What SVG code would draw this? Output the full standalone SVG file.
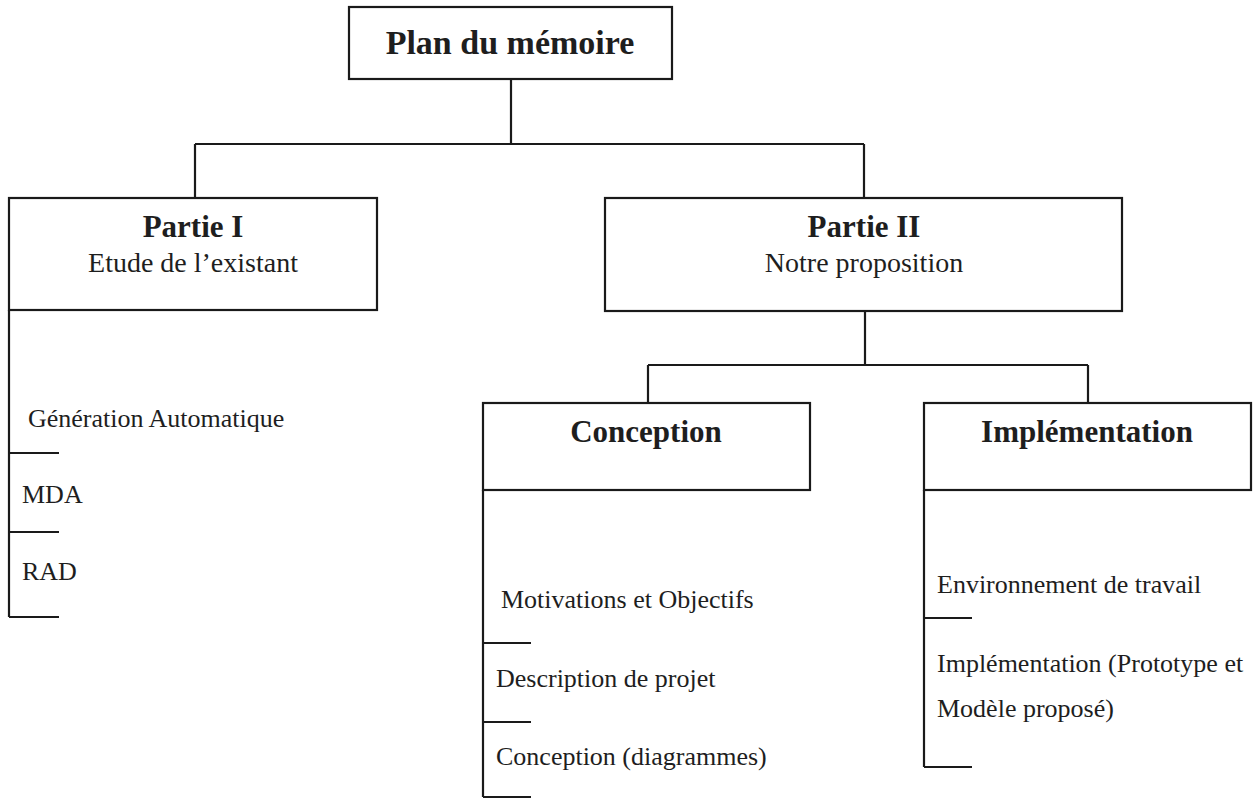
<svg xmlns="http://www.w3.org/2000/svg" width="1259" height="801" viewBox="0 0 1259 801">
<style>
.box{fill:#fff;stroke:#1a1a1a;stroke-width:2.2}
.ln{fill:none;stroke:#1a1a1a;stroke-width:2.2}
.t{font-family:"Liberation Serif","Times New Roman",serif;fill:#1e1e1e}
.h{font-weight:bold;text-anchor:middle}
.title{font-size:34px}
.head{font-size:31px}
.sub{font-size:28px;text-anchor:middle}
.item{font-size:26px}
</style>
<rect width="1259" height="801" fill="#fff"/>
<g id="connectors">
<path class="ln" d="M511,79 V144 M195,144 H864 M195,144 V198 M864,144 V198"/>
<path class="ln" d="M865,311 V365 M648,365 H1088 M648,365 V403 M1088,365 V403"/>
<path class="ln" d="M9,310 V617 M9,453 H59 M9,532 H59 M9,617 H59"/>
<path class="ln" d="M483,490 V797 M483,643 H531 M483,722 H531 M483,797 H531"/>
<path class="ln" d="M924,490 V767 M924,618 H972 M924,767 H972"/>
</g>
<g id="plan">
<rect class="box" x="349" y="7" width="323" height="72"/>
<text class="t h title" x="510" y="54">Plan du mémoire</text>
</g>
<g id="partie1">
<rect class="box" x="9" y="198" width="368" height="112"/>
<text class="t h head" x="193" y="237">Partie I</text>
<text class="t sub" x="193" y="272">Etude de l’existant</text>
</g>
<g id="partie2">
<rect class="box" x="605" y="198" width="517" height="113"/>
<text class="t h head" x="864" y="237">Partie II</text>
<text class="t sub" x="864" y="272">Notre proposition</text>
</g>
<g id="items1">
<text class="t item" x="28" y="427">Génération Automatique</text>
<text class="t item" x="22" y="503">MDA</text>
<text class="t item" x="22" y="580">RAD</text>
</g>
<g id="conception">
<rect class="box" x="483" y="403" width="327" height="87"/>
<text class="t h head" x="646" y="442">Conception</text>
</g>
<g id="items-conception">
<text class="t item" x="501" y="608">Motivations et Objectifs</text>
<text class="t item" x="496" y="687">Description de projet</text>
<text class="t item" x="496" y="765">Conception (diagrammes)</text>
</g>
<g id="implementation">
<rect class="box" x="924" y="403" width="327" height="87"/>
<text class="t h head" x="1087" y="442">Implémentation</text>
</g>
<g id="items-implementation">
<text class="t item" x="937" y="593">Environnement de travail</text>
<text class="t item" x="937" y="672">Implémentation (Prototype et</text>
<text class="t item" x="937" y="717">Modèle proposé)</text>
</g>
</svg>
